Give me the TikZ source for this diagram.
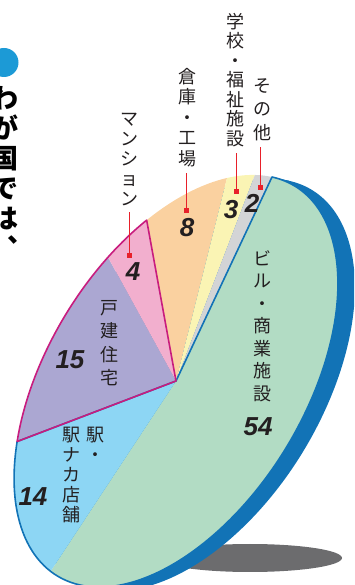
\documentclass[tikz,border=0pt]{standalone}
\usepackage{fontspec}
\newfontfamily\jp{Noto Sans CJK JP}
\newfontfamily\numfont{Liberation Sans}
\definecolor{bldg}{HTML}{B2DCC4}
\definecolor{station}{HTML}{8DD6F4}
\definecolor{house}{HTML}{ABA7D2}
\definecolor{mansion}{HTML}{F2AFCE}
\definecolor{factory}{HTML}{FAD1A0}
\definecolor{school}{HTML}{FAF4B4}
\definecolor{other}{HTML}{D3D4D6}
\definecolor{rim}{HTML}{1273B6}
\definecolor{frame}{HTML}{C81C7E}
\definecolor{leadred}{HTML}{E8202A}
\definecolor{dotblue}{HTML}{1C9AD6}
\definecolor{shadowgray}{HTML}{6C6C6E}
\definecolor{ink}{HTML}{231F20}

\begin{document}
\begin{tikzpicture}[
			x=1pt, y=1pt,
			lab/.style={font=\jp\fontsize{18}{#1}\selectfont, align=center, inner sep=0, anchor=north, text=ink},
			lab/.default=20,
			num/.style={font=\numfont\bfseries\itshape\fontsize{26}{26}\selectfont, inner sep=0, text=ink},
			redsq/.style={fill=leadred, minimum size=5pt, inner sep=0},
			lead/.style={draw=leadred, line width=0.8pt, shorten >=6pt},
			border/.style={line width=1.6pt, line join=round},
		]
		\useasboundingbox (0,0) rectangle (354,585);
		\clip (0,0) rectangle (354,585);
		\fill[shadowgray] (250,27) ellipse [x radius=92, y radius=14];
		\begin{scope}[cm={1.304,-0.291,0.96,2.04,(176,204)}]
			\fill[rim] (0,-100) -- (13,-100) -- (13,100) -- (0,100) -- cycle;
			\fill[rim] (13,0) circle [radius=100];
			\fill[bldg] (0,0) -- (90:100) arc [start angle=90, end angle=-104.4, radius=100] -- cycle;
			\fill[station] (0,0) -- (-104.4:100) arc [start angle=-104.4, end angle=-154.8, radius=100] -- cycle;
			\fill[house] (0,0) -- (-154.8:100) arc [start angle=-154.8, end angle=-208.8, radius=100] -- cycle;
			\fill[mansion] (0,0) -- (-208.8:100) arc [start angle=-208.8, end angle=-223.2, radius=100] -- cycle;
			\fill[factory] (0,0) -- (-223.2:100) arc [start angle=-223.2, end angle=-252, radius=100] -- cycle;
			\fill[school] (0,0) -- (-252:100) arc [start angle=-252, end angle=-262.8, radius=100] -- cycle;
			\fill[other] (0,0) -- (-262.8:100) arc [start angle=-262.8, end angle=-270, radius=100] -- cycle;
			\draw[rim, border] (0,0) -- (90:100) arc [start angle=90, end angle=-154.8, radius=100] -- cycle;
			\draw[frame, border] (0,0) -- (-154.8:100) arc [start angle=-154.8, end angle=-223.2, radius=100] -- cycle;
		\end{scope}

		\node[circle, fill=dotblue, minimum size=29pt, inner sep=0] (bullet) at (4,522.5) {};
		\node[font=\jp\bfseries\fontsize{27}{30}\selectfont, align=center, inner sep=0, anchor=north, text=black] (title) at (5,499) {わ\\が\\国\\で\\は\\︑};

		\node[lab=23.5] (other) at (262,507) {そ\\の\\他};
		\node[lab=19.5] (school) at (235,572) {学\\校\\・\\福\\祉\\施\\設};
		\node[lab=20.5] (factory) at (187,517) {倉\\庫\\・\\工\\場};
		\node[lab] (mansion) at (129,472) {マ\\ン\\シ\\ョ\\ン};
		\node[lab=22.5] (bldg) at (262,335) {ビ\\ル\\・\\商\\業\\施\\設};
		\node[lab=23.5] (house) at (109,285) {戸\\建\\住\\宅};
		\node[lab] (station) at (95,158) {駅\\・};
		\node[lab] (ekinaka) at (71,158) {駅\\ナ\\カ\\店\\舗};

		\node[redsq] (sqother) at (260.5,397.5) {};
		\node[redsq] (sqschool) at (236,393) {};
		\node[redsq] (sqfactory) at (186.7,374) {};
		\node[redsq] (sqmansion) at (129,329) {};
		\draw[lead] (sqother) -- (sqother |- other.south);
		\draw[lead] (sqschool) -- (sqschool |- school.south);
		\draw[lead] (sqfactory) -- (sqfactory |- factory.south);
		\draw[lead] (sqmansion) -- (sqmansion |- mansion.south);

		\node[num] (nother) at (252,382) {2};
		\node[num] (nschool) at (231,375) {3};
		\node[num] (nfactory) at (187,357) {8};
		\node[num] (nmansion) at (133,313) {4};
		\node[num] (nbldg) at (258,158) {54};
		\node[num] (nhouse) at (70,225) {15};
		\node[num] (nstation) at (33,88) {14};
	\end{tikzpicture}
\end{document}
